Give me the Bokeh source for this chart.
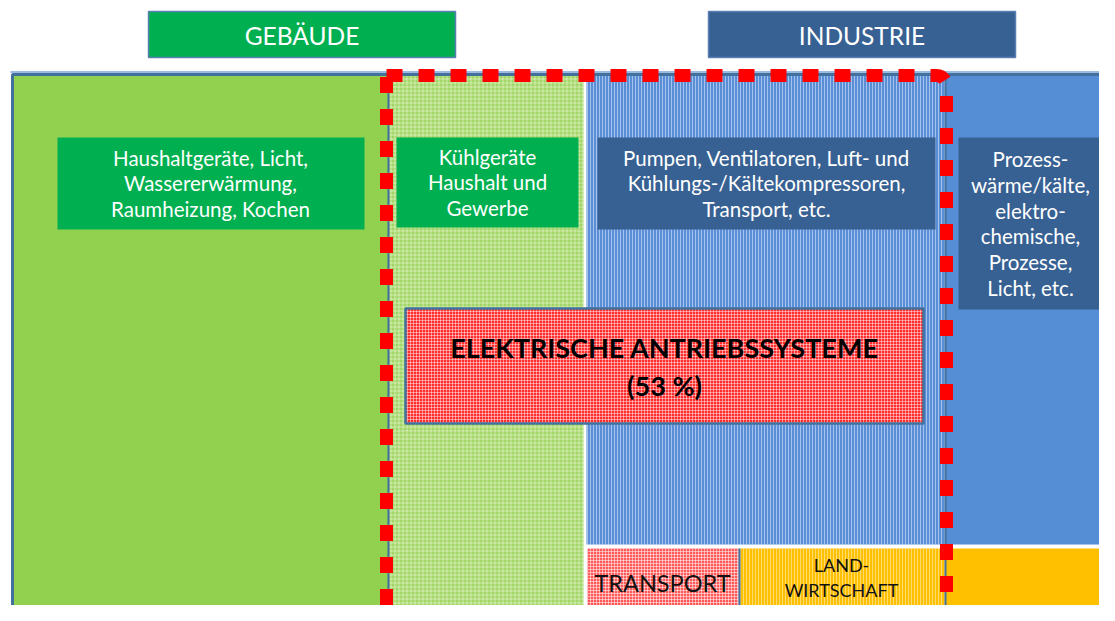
from bokeh.plotting import figure
from bokeh.models import Range1d, BoxAnnotation
from bokeh.core.properties import value
from bokeh.embed import file_html
from bokeh.resources import INLINE

# ---- content (texts) ----
sector_labels = ["GEBÄUDE", "INDUSTRIE"]
use_labels = [
    "Haushaltgeräte, Licht,\nWassererwärmung,\nRaumheizung, Kochen",
    "Kühlgeräte\nHaushalt und\nGewerbe",
    "Pumpen, Ventilatoren, Luft- und\nKühlungs-/Kältekompressoren,\nTransport, etc.",
    "Prozess-\nwärme/kälte,\nelektro-\nchemische,\nProzesse,\nLicht, etc.",
]
other_labels = ["TRANSPORT", "LAND-\nWIRTSCHAFT"]
drive_label = "ELEKTRISCHE ANTRIEBSSYSTEME"
drive_share = 53

# ---- layout (pixel-like diagram coordinates) ----
FONT = "Lato"
p = figure(width=1099, height=605, x_range=Range1d(0, 1099), y_range=Range1d(605, 0),
           output_backend="svg", toolbar_location=None, min_border=0,
           x_axis_location=None, y_axis_location=None)
p.grid.visible = False
p.outline_line_color = None
p.background_fill_color = "white"
p.border_fill_color = "white"

BORDER = "#41719C"

# background regions
p.quad(left=[12], right=[388], top=[74], bottom=[618], fill_color="#92D050", line_color=None)
p.quad(left=[388], right=[583], top=[74], bottom=[618], fill_color="#A2D665", line_color=None,
       hatch_pattern="+", hatch_color="white", hatch_alpha=0.45, hatch_scale=4, hatch_weight=1)
p.quad(left=[586], right=[945], top=[74], bottom=[544], fill_color="#5A8FD8", line_color=None,
       hatch_pattern="|", hatch_color="white", hatch_alpha=0.45, hatch_scale=3, hatch_weight=1)
p.quad(left=[945], right=[1120], top=[74], bottom=[544], fill_color="#558ED5", line_color=None)
p.quad(left=[587], right=[738], top=[548], bottom=[618], fill_color="#FF5A5A", line_color=None,
       hatch_pattern="+", hatch_color="white", hatch_alpha=0.5, hatch_scale=3, hatch_weight=1)
p.quad(left=[740], right=[945], top=[548], bottom=[618], fill_color="#FFC000", line_color=None,
       hatch_pattern="|", hatch_color="white", hatch_alpha=0.45, hatch_scale=3, hatch_weight=1)
p.quad(left=[945], right=[1120], top=[548], bottom=[618], fill_color="#FFC000", line_color=None)

# thin region borders
p.segment(x0=[739, 945, 388], y0=[548, 74, 74], x1=[739, 945, 388], y1=[618, 618, 618],
          line_color=BORDER, line_width=2)
# outer frame
p.segment(x0=[10], y0=[71.5], x1=[1120], y1=[71.5], line_color="#9DBBE0", line_width=2)
p.quad(left=[12], right=[1122], top=[74], bottom=[617], fill_color=None,
       line_color=BORDER, line_width=3)

# header boxes
p.quad(left=[148, 708], right=[455, 1015], top=[11, 11], bottom=[57, 57],
       fill_color=["#00B050", "#386193"], line_color="#5B7FB5", line_width=1.5)
p.text(x=[301.5, 861.5], y=[35, 35], text=sector_labels, text_align="center",
       text_baseline="middle", text_font=value(FONT), text_font_size="24.5px", text_color="white")

# use-case boxes
ux = [210, 487, 766, 1030]
uy = [183, 182, 183, 223]
p.quad(left=[57, 396, 597, 958], right=[364, 578, 935, 1102], top=[137, 137, 137, 137],
       bottom=[229, 227, 229, 309], fill_color=["#00B050", "#00B050", "#386193", "#386193"],
       line_color=None)
p.text(x=ux, y=uy, text=use_labels, text_align="center", text_baseline="middle",
       text_font=value(FONT), text_font_size="20.5px", text_color="white", text_line_height=1.07)

# other sectors
p.text(x=[662], y=[582], text=[other_labels[0]], text_align="center", text_baseline="middle",
       text_font=value(FONT), text_font_size="23.5px", text_color="#111111")
p.text(x=[841], y=[577], text=[other_labels[1]], text_align="center", text_baseline="middle",
       text_font=value(FONT), text_font_size="18px", text_color="#111111", text_line_height=1.15)

# drive box
p.quad(left=[405], right=[923], top=[308], bottom=[423], fill_color="#FF2E2E",
       line_color=BORDER, line_width=2.5,
       hatch_pattern="+", hatch_color="white", hatch_alpha=0.45, hatch_scale=3, hatch_weight=1)
p.text(x=[664], y=[366], text=[f"{drive_label}\n({drive_share} %)"], text_align="center",
       text_baseline="middle", text_font=value(FONT), text_font_size="27px",
       text_font_style="bold", text_color="black", text_line_height=1.17)

# red dashed frame
box = BoxAnnotation(left=386, right=946, top=75, bottom=614, fill_alpha=0,
                    line_color="#FF0000", line_alpha=1.0, line_width=13, line_dash="16 16",
                    border_radius=dict(top_left=0, top_right=10, bottom_right=0, bottom_left=0))
p.add_layout(box)

open("out.html", "w").write(file_html(p, INLINE))
